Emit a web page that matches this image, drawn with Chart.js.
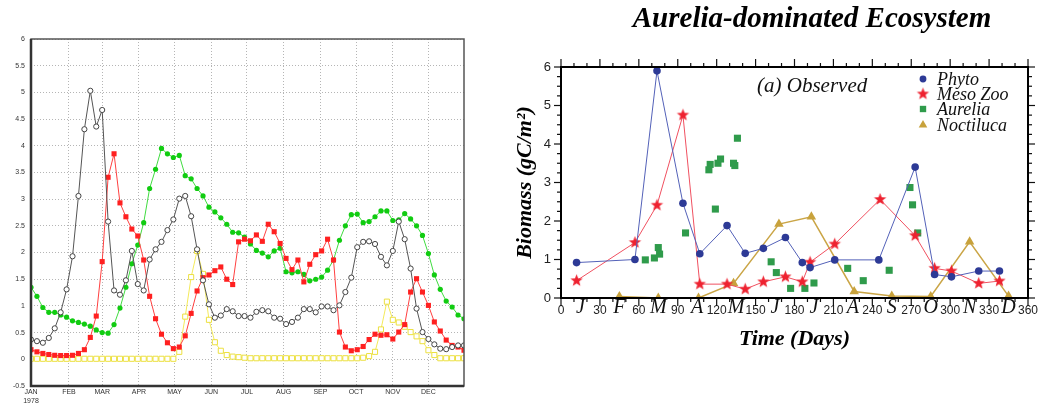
<!DOCTYPE html>
<html>
<head>
<meta charset="utf-8">
<script src="https://cdn.jsdelivr.net/npm/chart.js@4.4.1/dist/chart.umd.min.js"></script>
<style>
  body { margin: 0; background: #fff; }
  #wrap { position: relative; width: 1042px; height: 407px; }
  canvas { position: absolute; top: 0; }
</style>
</head>
<body>
<div id="wrap">
  <canvas id="seasonChart" width="480" height="407" style="left:0"></canvas>
  <canvas id="aureliaChart" width="562" height="407" style="left:480px"></canvas>
</div>
<script>
// ---- left panel: 5-day model output, 1978 ----
const pentadDay = Array.from({ length: 74 }, (_, i) => i * 5);
const monthStart = [0, 32, 60, 91, 121, 152, 182, 213, 244, 274, 305, 335];
const monthName = ['JAN', 'FEB', 'MAR', 'APR', 'MAY', 'JUN', 'JUL', 'AUG', 'SEP', 'OCT', 'NOV', 'DEC'];

const graySeries = [0.37, 0.34, 0.31, 0.40, 0.58, 0.88, 1.31, 1.93, 3.06, 4.31, 5.03, 4.36, 4.67, 2.58, 1.29, 1.21, 1.48, 2.03, 1.41, 1.29,
  1.87, 2.06, 2.20, 2.42, 2.62, 3.01, 3.06, 2.68, 2.06, 1.48, 1.03, 0.78, 0.82, 0.94, 0.90, 0.81, 0.81, 0.78, 0.89, 0.92,
  0.90, 0.78, 0.76, 0.66, 0.70, 0.78, 0.94, 0.94, 0.88, 0.99, 0.99, 0.92, 1.01, 1.26, 1.53, 2.10, 2.20, 2.21, 2.16, 1.92,
  1.76, 2.03, 2.58, 2.25, 1.70, 0.95, 0.51, 0.38, 0.28, 0.20, 0.19, 0.23, 0.26, 0.26];
const redSeries = [0.18, 0.14, 0.11, 0.09, 0.075, 0.07, 0.07, 0.075, 0.11, 0.18, 0.41, 0.81, 1.83, 3.41, 3.85, 2.93, 2.67, 2.44, 2.31, 1.86,
  1.18, 0.76, 0.47, 0.31, 0.20, 0.23, 0.44, 0.86, 1.28, 1.53, 1.58, 1.66, 1.73, 1.50, 1.40, 2.20, 2.25, 2.22, 2.33, 2.21,
  2.53, 2.39, 2.17, 1.89, 1.68, 1.86, 1.45, 1.78, 1.96, 2.03, 2.25, 1.86, 0.51, 0.23, 0.16, 0.18, 0.24, 0.37, 0.47, 0.45,
  0.46, 0.38, 0.51, 0.65, 1.26, 1.51, 1.26, 1.01, 0.70, 0.53, 0.36, 0.26, 0.23, 0.17];
const greenSeries = [1.35, 1.18, 0.97, 0.88, 0.88, 0.83, 0.79, 0.72, 0.69, 0.66, 0.62, 0.55, 0.50, 0.49, 0.65, 0.96, 1.35, 1.79, 2.14, 2.56,
  3.20, 3.56, 3.95, 3.85, 3.78, 3.82, 3.44, 3.38, 3.20, 3.06, 2.85, 2.76, 2.65, 2.53, 2.38, 2.37, 2.29, 2.16, 2.04, 1.99,
  1.92, 2.03, 2.08, 1.64, 1.62, 1.64, 1.59, 1.47, 1.50, 1.54, 1.67, 1.86, 2.23, 2.50, 2.71, 2.72, 2.56, 2.58, 2.67, 2.78,
  2.78, 2.60, 2.61, 2.73, 2.63, 2.50, 2.32, 1.98, 1.58, 1.31, 1.09, 0.98, 0.83, 0.76];
const yellowSeries = [0.01, 0.01, 0.01, 0.01, 0.01, 0.01, 0.01, 0.01, 0.01, 0.01, 0.01, 0.01, 0.01, 0.01, 0.01, 0.01, 0.01, 0.01, 0.01, 0.01,
  0.01, 0.01, 0.01, 0.01, 0.01, 0.14, 0.80, 1.54, 2.03, 1.60, 0.74, 0.32, 0.16, 0.08, 0.05, 0.04, 0.03, 0.02, 0.02, 0.02,
  0.02, 0.02, 0.02, 0.02, 0.02, 0.02, 0.02, 0.02, 0.02, 0.02, 0.02, 0.02, 0.02, 0.02, 0.02, 0.02, 0.03, 0.06, 0.14, 0.56,
  1.08, 0.74, 0.69, 0.61, 0.51, 0.43, 0.34, 0.17, 0.08, 0.02, 0.02, 0.02, 0.02, 0.02];

// ---- right panel: observed biomass ----
const phytoDay = [12, 57, 74, 94, 107, 128, 142, 156, 173, 186, 192, 211, 245, 273, 288, 301, 322, 338];
const phytoBiomass = [0.92, 1.00, 5.90, 2.46, 1.15, 1.88, 1.16, 1.29, 1.57, 0.92, 0.79, 0.99, 0.99, 3.40, 0.61, 0.55, 0.70, 0.70];
const mesoDay = [12, 57, 74, 94, 107, 128, 142, 156, 173, 186, 192, 211, 246, 273, 288, 301, 322, 338];
const mesoBiomass = [0.45, 1.44, 2.41, 4.75, 0.36, 0.36, 0.23, 0.42, 0.55, 0.42, 0.93, 1.40, 2.56, 1.62, 0.77, 0.70, 0.38, 0.44];
const aureliaDay = [65, 72, 75, 76, 96, 114, 115, 119, 121, 123, 133, 134, 136, 162, 166, 177, 188, 195, 221, 233, 253, 269, 271, 275];
const aureliaBiomass = [0.99, 1.04, 1.31, 1.14, 1.69, 3.33, 3.47, 2.31, 3.50, 3.61, 3.50, 3.44, 4.15, 0.94, 0.66, 0.25, 0.25, 0.39, 0.77, 0.45, 0.72, 2.87, 2.42, 1.69];
const noctiDay = [45, 75, 106, 133, 168, 193, 226, 255, 285, 315, 345];
const noctiBiomass = [0.04, 0.00, 0.00, 0.38, 1.92, 2.11, 0.17, 0.05, 0.04, 1.46, 0.05];
const monthLetter = ['J', 'F', 'M', 'A', 'M', 'J', 'J', 'A', 'S', 'O', 'N', 'D'];
const legendNames = ['Phyto', 'Meso Zoo', 'Aurelia', 'Noctiluca'];

const pts = (xs, ys) => xs.map((x, i) => ({ x: x, y: ys[i] }));
const serif = 'Liberation Serif, DejaVu Serif, serif';
const sans = 'Liberation Sans, Arial, sans-serif';

function starImage(color, r) {
  const c = document.createElement('canvas');
  const s = Math.ceil(r * 2 + 2);
  c.width = c.height = s;
  const g = c.getContext('2d');
  g.fillStyle = color;
  g.beginPath();
  for (let k = 0; k < 10; k++) {
    const rr = k % 2 ? r * 0.42 : r;
    const a = -Math.PI / 2 + k * Math.PI / 5;
    g.lineTo(s / 2 + rr * Math.cos(a), s / 2 + rr * Math.sin(a));
  }
  g.closePath();
  g.fill();
  return c;
}

// frame for the left panel
const seasonFrame = {
  id: 'seasonFrame',
  afterDatasetsDraw(chart) {
    const { ctx, chartArea: a } = chart;
    ctx.save();
    ctx.strokeStyle = '#555';
    ctx.lineWidth = 1.5;
    ctx.strokeRect(a.left, a.top, a.width, a.height);
    ctx.strokeStyle = '#333';
    ctx.lineWidth = 2.5;
    ctx.beginPath();
    ctx.moveTo(a.left, a.top);
    ctx.lineTo(a.left, a.bottom);
    ctx.lineTo(a.right, a.bottom);
    ctx.stroke();
    ctx.restore();
  }
};

new Chart(document.getElementById('seasonChart'), {
  type: 'line',
  data: {
    datasets: [
      { data: pts(pentadDay, graySeries), borderColor: '#555', borderWidth: 1, pointStyle: 'circle', pointRadius: 2.6,
        pointBackgroundColor: '#fff', pointBorderColor: '#444', pointBorderWidth: 1 },
      { data: pts(pentadDay, redSeries), borderColor: '#ff4040', borderWidth: 1, pointStyle: 'rect', pointRadius: 3.6,
        pointBackgroundColor: '#ff2020', pointBorderWidth: 0 },
      { data: pts(pentadDay, greenSeries), borderColor: '#40dc40', borderWidth: 1, pointStyle: 'circle', pointRadius: 2.6,
        pointBackgroundColor: '#11cc11', pointBorderWidth: 0 },
      { data: pts(pentadDay, yellowSeries), borderColor: '#f4ea5a', borderWidth: 1, pointStyle: 'rect', pointRadius: 3.6,
        pointBackgroundColor: '#fff', pointBorderColor: '#ece040', pointBorderWidth: 1 }
    ]
  },
  options: {
    responsive: false,
    animation: false,
    devicePixelRatio: 1,
    events: [],
    layout: { padding: { top: 39, right: 16, left: 0, bottom: 0 } },
    plugins: { legend: { display: false }, tooltip: { enabled: false } },
    scales: {
      x: {
        type: 'linear', min: 0, max: 365,
        afterFit: s => { s.height = 21; },
        afterBuildTicks: s => { s.ticks = monthStart.map(v => ({ value: v })); },
        ticks: {
          autoSkip: false, maxRotation: 0, padding: 2, color: '#333',
          font: { family: sans, size: 7 },
          callback: (v, i) => i === 0 ? [monthName[0], '1978'] : monthName[i]
        },
        grid: { color: '#b5b5b5', drawTicks: false },
        border: { display: false, dash: [1, 2] }
      },
      y: {
        min: -0.5, max: 6,
        afterFit: s => { s.width = 31; },
        ticks: { stepSize: 0.5, padding: 6, color: '#333', font: { family: sans, size: 7 },
          callback: v => String(Math.round(v * 10) / 10) },
        grid: { color: '#b5b5b5', drawTicks: false },
        border: { display: false, dash: [1, 2] }
      }
    }
  },
  plugins: [seasonFrame]
});

// frame, ticks, month letters, legend and labels for the right panel
const aureliaDecor = {
  id: 'aureliaDecor',
  afterDraw(chart) {
    const { ctx, chartArea: a, scales: { x, y } } = chart;
    const seg = (x1, y1, x2, y2) => { ctx.beginPath(); ctx.moveTo(x1, y1); ctx.lineTo(x2, y2); ctx.stroke(); };
    ctx.save();
    ctx.strokeStyle = '#111';
    ctx.lineWidth = 1.2;
    for (let d = 0; d <= 360; d += 10) {
      const px = x.getPixelForValue(d);
      const len = d % 30 === 0 ? 8 : 4;
      seg(px, a.bottom, px, a.bottom + len);
      seg(px, a.top, px, a.top - len);
    }
    for (let v = 0; v <= 6; v += 0.25) {
      const py = y.getPixelForValue(v);
      const len = v % 1 === 0 ? 7 : 4;
      seg(a.left - len, py, a.left, py);
      seg(a.right, py, a.right + len, py);
    }
    ctx.lineWidth = 2;
    ctx.strokeStyle = '#000';
    ctx.strokeRect(a.left, a.top, a.width, a.height);

    // month initials between the day numbers
    ctx.fillStyle = '#111';
    ctx.textAlign = 'center';
    ctx.textBaseline = 'middle';
    ctx.font = 'italic 20px ' + serif;
    monthLetter.forEach((m, k) => ctx.fillText(m, x.getPixelForValue(15 + 30 * k), 308));

    // title and panel label
    ctx.font = 'italic bold 29px ' + serif;
    ctx.fillStyle = '#000';
    ctx.fillText('Aurelia-dominated Ecosystem', 332, 20);
    ctx.textAlign = 'left';
    ctx.font = 'italic 21px ' + serif;
    ctx.fillStyle = '#111';
    ctx.fillText('(a) Observed', 277, 86);

    // legend
    const rows = [79, 94, 109, 125];
    ctx.font = 'italic 18px ' + serif;
    chart.data.datasets.forEach((ds, i) => {
      ctx.fillStyle = ds.pointBackgroundColor;
      Chart.helpers.drawPoint(ctx, { pointStyle: ds.pointStyle, rotation: 0, radius: ds.pointRadius * 0.9, borderWidth: 0 }, 443, rows[i]);
      ctx.fillStyle = '#111';
      ctx.fillText(legendNames[i], 457, rows[i] + 1);
    });
    ctx.restore();
  }
};

new Chart(document.getElementById('aureliaChart'), {
  type: 'line',
  data: {
    datasets: [
      { data: pts(phytoDay, phytoBiomass), borderColor: '#5361b8', borderWidth: 1, pointStyle: 'circle', pointRadius: 3.8,
        pointBackgroundColor: '#2d3a96', pointBorderWidth: 0 },
      { data: pts(mesoDay, mesoBiomass), borderColor: '#f05060', borderWidth: 1, pointStyle: starImage('#ee2230', 6.5), pointRadius: 6.5,
        pointBackgroundColor: '#ee2230', pointBorderWidth: 0 },
      { data: pts(aureliaDay, aureliaBiomass), showLine: false, pointStyle: 'rect', pointRadius: 5,
        pointBackgroundColor: '#2f9b4b', pointBorderWidth: 0 },
      { data: pts(noctiDay, noctiBiomass), borderColor: '#caa546', borderWidth: 1.5, pointStyle: 'triangle', pointRadius: 5.5,
        pointBackgroundColor: '#c8a23c', pointBorderWidth: 0 }
    ]
  },
  options: {
    responsive: false,
    animation: false,
    devicePixelRatio: 1,
    events: [],
    layout: { padding: { top: 67, right: 14, left: 0, bottom: 0 } },
    plugins: { legend: { display: false }, tooltip: { enabled: false } },
    scales: {
      x: {
        type: 'linear', min: 0, max: 360,
        afterFit: s => { s.height = 109; },
        ticks: { stepSize: 30, padding: -3, color: '#222', autoSkip: false, maxRotation: 0, font: { family: sans, size: 12 } },
        grid: { drawOnChartArea: false, tickLength: 8, tickColor: 'rgba(0,0,0,0)' },
        border: { display: false },
        title: { display: true, text: 'Time (Days)', color: '#000',
          font: { family: serif, size: 22, style: 'italic', weight: 'bold' }, padding: { top: 0, bottom: 54 } }
      },
      y: {
        min: 0, max: 6,
        afterFit: s => { s.width = 81; },
        ticks: { stepSize: 1, padding: 4, color: '#222', font: { family: sans, size: 13 } },
        grid: { drawOnChartArea: false, tickLength: 6, tickColor: 'rgba(0,0,0,0)' },
        border: { display: false },
        title: { display: true, text: 'Biomass (gC/m²)', color: '#000',
          font: { family: serif, size: 22, style: 'italic', weight: 'bold' }, padding: { top: 32, bottom: 0 } }
      }
    }
  },
  plugins: [aureliaDecor]
});
</script>
</body>
</html>
